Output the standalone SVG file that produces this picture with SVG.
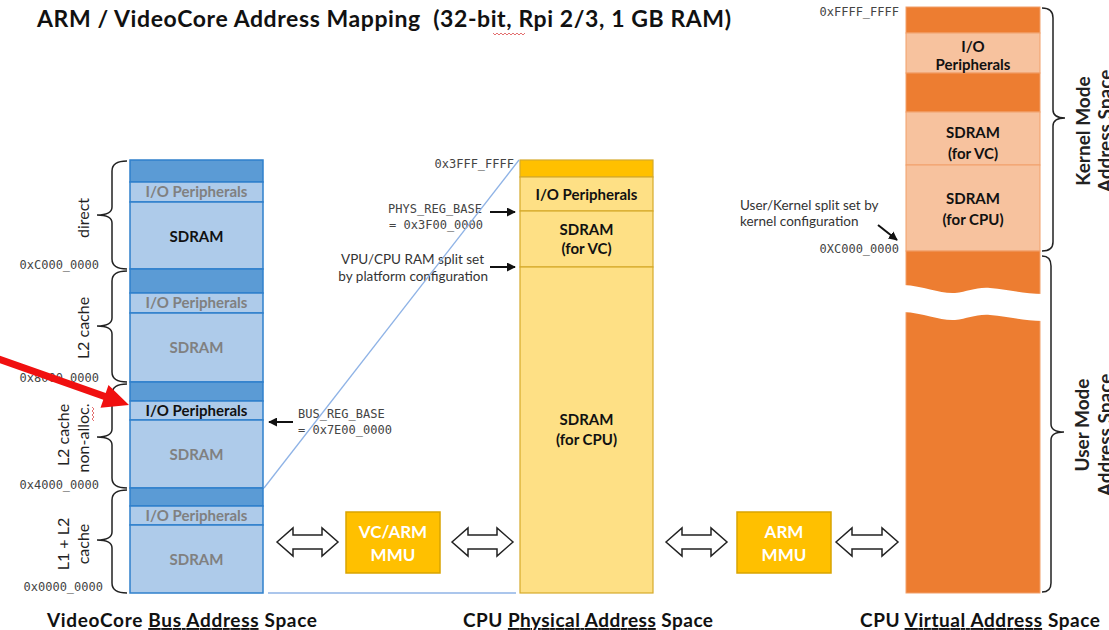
<svg xmlns="http://www.w3.org/2000/svg" width="1109" height="630" viewBox="0 0 1109 630">
  <style>
    .title { font-family: Lato, "Liberation Sans", sans-serif; font-weight: 700; font-size: 23px; fill: #111; white-space: pre; }
    .caption { font-family: Lato, "Liberation Sans", sans-serif; font-weight: 700; font-size: 19px; fill: #111; }
    .lbl { font-family: Lato, "Liberation Sans", sans-serif; font-weight: 700; font-size: 15px; text-anchor: middle; fill: #111; }
    .dim { fill: #808080; }
    .side { font-family: Lato, "Liberation Sans", sans-serif; font-size: 16px; text-anchor: middle; fill: #222; }
    .mode { font-family: Lato, "Liberation Sans", sans-serif; font-weight: 700; font-size: 19px; text-anchor: middle; fill: #222; }
    .addr { font-family: "DejaVu Sans Mono", "Liberation Mono", monospace; font-size: 12px; fill: #444; }
    .note { font-family: Lato, "Liberation Sans", sans-serif; font-size: 13.5px; fill: #333; }
    .mmu-t { font-family: Lato, "Liberation Sans", sans-serif; font-weight: 700; font-size: 17px; text-anchor: middle; fill: #fff; }
    .blue-dark { fill: #5b9bd5; stroke: #2f80cc; stroke-width: 1.5; }
    .blue-light { fill: #aecbea; stroke: #2f80cc; stroke-width: 1.5; }
    .yel-dark { fill: #ffc000; stroke: #d6aa2a; stroke-width: 1.2; }
    .yel-light { fill: #fee085; stroke: #d6aa2a; stroke-width: 1.2; }
    .org-dark { fill: #ed7d31; stroke: #f1a06a; stroke-width: 1; }
    .org-light { fill: #f7c29e; stroke: #f1a06a; stroke-width: 1; }
    .brace { fill: none; stroke: #222; stroke-width: 1.5; }
    .dbl { fill: #fff; stroke: #222; stroke-width: 1.5; stroke-linejoin: miter; }
    .map { stroke: #8fb3e6; stroke-width: 1.3; fill: none; }
    .ptr { stroke: #111; stroke-width: 2; fill: none; marker-end: url(#ah); }
    .mmu { fill: #ffc000; stroke: #d9a400; stroke-width: 1.5; }
    .squiggle { fill: none; stroke: #e06060; stroke-width: 0.9; }
  </style>
  <defs>
    <marker id="ah" viewBox="0 0 10 10" refX="9" refY="5" markerWidth="9" markerHeight="9" markerUnits="userSpaceOnUse" orient="auto">
      <path d="M0,0 L10,5 L0,10 Z" fill="#111"/>
    </marker>
  </defs>

  <rect width="1109" height="630" fill="#fff"/>

  <!-- Title -->
  <g id="title">
    <text class="title" x="37" y="27" textLength="694" lengthAdjust="spacing">ARM / VideoCore Address Mapping  (32-bit, Rpi 2/3, 1 GB RAM)</text>
    <path class="squiggle" d="M493,33 l2,2 l2,-2 l2,2 l2,-2 l2,2 l2,-2 l2,2 l2,-2 l2,2 l2,-2 l2,2 l2,-2 l2,2 l2,-2 l2,2 l2,-2"/>
  </g>

  <!-- VideoCore bus address space -->
  <g id="bus-space">
    <g id="bus-direct">
      <rect class="blue-dark" x="130" y="160" width="133" height="22"/>
      <rect class="blue-light" x="130" y="182" width="133" height="20"/>
      <rect class="blue-light" x="130" y="202" width="133" height="67"/>
      <text class="lbl dim" x="196.5" y="197">I/O Peripherals</text>
      <text class="lbl" x="196.5" y="242">SDRAM</text>
    </g>
    <g id="bus-l2">
      <rect class="blue-dark" x="130" y="269" width="133" height="24"/>
      <rect class="blue-light" x="130" y="293" width="133" height="20"/>
      <rect class="blue-light" x="130" y="313" width="133" height="69"/>
      <text class="lbl dim" x="196.5" y="308">I/O Peripherals</text>
      <text class="lbl dim" x="196.5" y="353">SDRAM</text>
    </g>
    <g id="bus-l2-nonalloc">
      <rect class="blue-dark" x="130" y="382" width="133" height="19"/>
      <rect class="blue-light" x="130" y="401" width="133" height="19"/>
      <rect class="blue-light" x="130" y="420" width="133" height="68"/>
      <text class="lbl" x="196.5" y="416">I/O Peripherals</text>
      <text class="lbl dim" x="196.5" y="460">SDRAM</text>
    </g>
    <g id="bus-l1l2">
      <rect class="blue-dark" x="130" y="488" width="133" height="18"/>
      <rect class="blue-light" x="130" y="506" width="133" height="19"/>
      <rect class="blue-light" x="130" y="525" width="133" height="68"/>
      <text class="lbl dim" x="196.5" y="521">I/O Peripherals</text>
      <text class="lbl dim" x="196.5" y="565">SDRAM</text>
    </g>

    <!-- cache-mode braces -->
    <path class="brace" d="M127,161 Q112,161 112,171 L112,207 Q112,215 97,215 Q112,215 112,223 L112,259 Q112,269 127,269"/>
    <path class="brace" d="M127,271 Q112,271 112,281 L112,318 Q112,326 97,326 Q112,326 112,334 L112,372 Q112,382 127,382"/>
    <path class="brace" d="M127,384 Q112,384 112,394 L112,429 Q112,437 97,437 Q112,437 112,445 L112,478 Q112,488 127,488"/>
    <path class="brace" d="M127,490 Q112,490 112,500 L112,532 Q112,540 97,540 Q112,540 112,548 L112,583 Q112,593 127,593"/>

    <text class="side" transform="translate(89,218) rotate(-90)">direct</text>
    <text class="side" transform="translate(89,328) rotate(-90)">L2 cache</text>
    <text class="side" transform="translate(69,435) rotate(-90)">L2 cache</text>
    <text class="side" transform="translate(89,438) rotate(-90)">non-alloc.</text>
    <path class="squiggle" d="M92,407 l2,2 l-2,2 l2,2 l-2,2 l2,2 l-2,2 l2,2"/>
    <text class="side" transform="translate(69,544) rotate(-90)">L1 + L2</text>
    <text class="side" transform="translate(89,544) rotate(-90)">cache</text>

    <text class="addr" x="99" y="269" text-anchor="end">0xC000_0000</text>
    <text class="addr" x="99" y="382" text-anchor="end">0x8000_0000</text>
    <text class="addr" x="99" y="489" text-anchor="end">0x4000_0000</text>
    <text class="addr" x="103" y="591" text-anchor="end">0x0000_0000</text>

    <text class="addr" x="298" y="418">BUS_REG_BASE</text>
    <text class="addr" x="298" y="434">= 0x7E00_0000</text>

    <text class="caption" x="47" y="627" textLength="270" lengthAdjust="spacing">VideoCore <tspan text-decoration="underline">Bus Address</tspan> Space</text>
  </g>

  <!-- CPU physical address space -->
  <g id="phys-space">
    <rect class="yel-dark" x="520" y="160" width="133" height="17"/>
    <rect class="yel-light" x="520" y="177" width="133" height="34"/>
    <rect class="yel-light" x="520" y="211" width="133" height="56"/>
    <rect class="yel-light" x="520" y="267" width="133" height="326"/>
    <text class="lbl" x="586.5" y="200">I/O Peripherals</text>
    <text class="lbl" x="586.5" y="235">SDRAM</text>
    <text class="lbl" x="586.5" y="254">(for VC)</text>
    <text class="lbl" x="586.5" y="425">SDRAM</text>
    <text class="lbl" x="586.5" y="445">(for CPU)</text>

    <text class="addr" x="514" y="168" text-anchor="end">0x3FFF_FFFF</text>
    <text class="addr" x="482" y="213" text-anchor="end">PHYS_REG_BASE</text>
    <text class="addr" x="483" y="229" text-anchor="end">= 0x3F00_0000</text>
    <text class="note" x="484" y="264" text-anchor="end">VPU/CPU RAM split set</text>
    <text class="note" x="488" y="281" text-anchor="end">by platform configuration</text>

    <text class="caption" x="463" y="627" textLength="250" lengthAdjust="spacing">CPU <tspan text-decoration="underline">Physical Address</tspan> Space</text>
  </g>

  <!-- MMUs -->
  <g id="vc-arm-mmu">
    <rect class="mmu" x="346" y="512" width="94" height="61"/>
    <text class="mmu-t" x="393" y="538">VC/ARM</text>
    <text class="mmu-t" x="393" y="561">MMU</text>
  </g>
  <g id="arm-mmu">
    <rect class="mmu" x="737" y="512" width="94" height="61"/>
    <text class="mmu-t" x="784" y="538">ARM</text>
    <text class="mmu-t" x="784" y="561">MMU</text>
  </g>

  <!-- CPU virtual address space -->
  <g id="virt-space">
    <rect class="org-dark" x="906" y="7" width="134" height="26"/>
    <rect class="org-light" x="906" y="33" width="134" height="40"/>
    <rect class="org-dark" x="906" y="73" width="134" height="39"/>
    <rect class="org-light" x="906" y="112" width="134" height="53"/>
    <rect class="org-light" x="906" y="165" width="134" height="86"/>
    <rect class="org-dark" x="906" y="251" width="134" height="342"/>
    <!-- break in the user range -->
    <path fill="#fff" d="M903,285 C925,286 940,294 955,293 C968,292 975,287 990,288 C1010,290 1025,294 1043,294 L1043,321 C1025,321 1010,317 990,315 C975,314 968,319 955,320 C940,321 925,313 903,312 Z"/>

    <text class="lbl" x="973" y="52">I/O</text>
    <text class="lbl" x="973" y="70">Peripherals</text>
    <text class="lbl" x="973" y="138">SDRAM</text>
    <text class="lbl" x="973" y="159">(for VC)</text>
    <text class="lbl" x="973" y="204">SDRAM</text>
    <text class="lbl" x="973" y="225">(for CPU)</text>

    <text class="addr" x="899" y="16" text-anchor="end">0xFFFF_FFFF</text>
    <text class="addr" x="899" y="253" text-anchor="end">0XC000_0000</text>
    <text class="note" x="740" y="210">User/Kernel split set by</text>
    <text class="note" x="740" y="226">kernel configuration</text>

    <path class="brace" d="M1042,8 Q1053,8 1053,18 L1053,110 Q1053,118 1065,118 Q1053,118 1053,126 L1053,242 Q1053,251 1042,251"/>
    <path class="brace" d="M1042,256 Q1051,256 1051,266 L1051,424 Q1051,432 1064,432 Q1051,432 1051,440 L1051,583 Q1051,592 1042,592"/>

    <text class="mode" transform="translate(1090,131) rotate(-90)">Kernel Mode</text>
    <text class="mode" transform="translate(1112,131) rotate(-90)">Address Space</text>
    <text class="mode" transform="translate(1089,425) rotate(-90)">User Mode</text>
    <text class="mode" transform="translate(1112,435) rotate(-90)">Address Space</text>

    <text class="caption" x="860" y="627" textLength="240" lengthAdjust="spacing">CPU <tspan text-decoration="underline">Virtual Address</tspan> Space</text>
  </g>

  <!-- Connectors -->
  <g id="connectors">
    <!-- bus window mapped onto physical space -->
    <line class="map" x1="264" y1="488" x2="519" y2="160"/>
    <line class="map" x1="268" y1="593" x2="516" y2="593"/>

    <!-- register base / split pointers -->
    <line class="ptr" x1="490" y1="212" x2="515" y2="212"/>
    <line class="ptr" x1="490" y1="267" x2="515" y2="267"/>
    <line class="ptr" x1="293" y1="422" x2="269" y2="422"/>
    <line class="ptr" x1="878" y1="225" x2="897" y2="240"/>

    <!-- two-way translation arrows -->
    <path class="dbl" d="M277,542 L293,528 L293,535 L322,535 L322,528 L338,542 L322,556 L322,549 L293,549 L293,556 Z"/>
    <path class="dbl" d="M452,542 L468,528 L468,535 L497,535 L497,528 L513,542 L497,556 L497,549 L468,549 L468,556 Z"/>
    <path class="dbl" d="M666,542 L682,528 L682,535 L711,535 L711,528 L727,542 L711,556 L711,549 L682,549 L682,556 Z"/>
    <path class="dbl" d="M836,542 L852,528 L852,535 L882,535 L882,528 L898,542 L882,556 L882,549 L852,549 L852,556 Z"/>

    <!-- highlight pointer -->
    <polygon fill="#f01010" points="-6.2,361.1 103.3,399.7 100.5,407.7 129,405 108.5,385.1 105.7,393.1 -3.8,354.5"/>
  </g>
</svg>
